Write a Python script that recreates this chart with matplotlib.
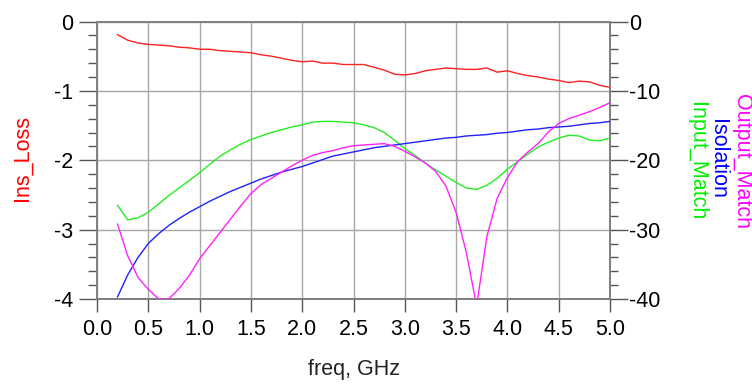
import matplotlib
matplotlib.use("Agg")
import matplotlib.pyplot as plt
from matplotlib.ticker import MultipleLocator, FormatStrFormatter

plt.rcParams['font.family'] = ['Liberation Sans', 'DejaVu Sans']
plt.rcParams['axes.unicode_minus'] = False

freq = [0.2, 0.3, 0.4, 0.5, 0.6, 0.7, 0.8, 0.9, 1.0, 1.1, 1.2, 1.3, 1.4, 1.5, 1.6,
        1.7, 1.8, 1.9, 2.0, 2.1, 2.2, 2.3, 2.4, 2.5, 2.6, 2.7, 2.8, 2.9, 3.0, 3.1,
        3.2, 3.3, 3.4, 3.5, 3.6, 3.7, 3.8, 3.9, 4.0, 4.1, 4.2, 4.3, 4.4, 4.5, 4.6,
        4.7, 4.8, 4.9, 5.0]

ins_loss = [-0.19, -0.27, -0.31, -0.33, -0.34, -0.35, -0.37, -0.38, -0.40, -0.40,
            -0.42, -0.43, -0.44, -0.45, -0.48, -0.50, -0.53, -0.56, -0.58, -0.57,
            -0.60, -0.60, -0.62, -0.62, -0.62, -0.66, -0.70, -0.76, -0.77, -0.75,
            -0.71, -0.69, -0.67, -0.68, -0.69, -0.69, -0.67, -0.73, -0.71, -0.75,
            -0.78, -0.80, -0.83, -0.85, -0.88, -0.86, -0.87, -0.92, -0.95]

input_match = [-26.5, -28.6, -28.3, -27.5, -26.3, -25.1, -24.0, -22.9, -21.8, -20.6,
               -19.4, -18.5, -17.7, -17.0, -16.5, -16.0, -15.6, -15.2, -14.9, -14.5,
               -14.4, -14.4, -14.5, -14.6, -14.9, -15.3, -16.0, -17.1, -18.3, -19.3,
               -20.4, -21.4, -22.3, -23.2, -24.0, -24.2, -23.6, -22.6, -21.3, -20.2,
               -19.1, -18.1, -17.4, -16.8, -16.4, -16.5, -17.1, -17.2, -16.8]

isolation = [-39.7, -36.5, -34.0, -32.0, -30.6, -29.4, -28.4, -27.5, -26.7, -25.9,
             -25.2, -24.5, -23.9, -23.3, -22.7, -22.2, -21.7, -21.3, -20.9, -20.4,
             -19.9, -19.4, -19.1, -18.8, -18.5, -18.2, -18.0, -17.8, -17.6, -17.4,
             -17.2, -17.0, -16.8, -16.7, -16.5, -16.4, -16.3, -16.1, -16.0, -15.8,
             -15.6, -15.5, -15.3, -15.2, -15.1, -14.9, -14.7, -14.6, -14.4]

output_match = [-29.2, -33.8, -36.9, -38.6, -40.0, -40.0, -38.5, -36.6, -34.2, -32.3,
                -30.4, -28.5, -26.6, -24.8, -23.5, -22.6, -21.7, -20.8, -20.0, -19.3,
                -18.9, -18.6, -18.2, -17.9, -17.8, -17.7, -17.6, -18.0, -18.7, -19.5,
                -20.4, -21.6, -23.7, -27.5, -33.3, -41.0, -31.0, -25.5, -22.5, -20.2,
                -18.8, -17.6, -15.9, -14.7, -14.0, -13.5, -13.0, -12.4, -11.7]

x_ticks = [0.0, 0.5, 1.0, 1.5, 2.0, 2.5, 3.0, 3.5, 4.0, 4.5, 5.0]

FS = 15.5
W, H = 752, 385
fig = plt.figure(figsize=(W / 100, H / 100), dpi=100)
ax = fig.add_axes([97 / W, 1 - 299 / H, (610 - 97) / W, (299 - 21.5) / H])
ax2 = ax.twinx()

ax.plot(freq, ins_loss, color='#ff2020', lw=1.0, zorder=3)
ax2.plot(freq, input_match, color='#22ee22', lw=1.0, zorder=3)
ax2.plot(freq, isolation, color='#2020ff', lw=1.0, zorder=3)
ax2.plot(freq, output_match, color='#ff22ff', lw=1.0, zorder=3)

ax.set_xlim(0, 5)
ax.set_ylim(-4, 0)
ax2.set_ylim(-40, 0)

ax.set_xticks(x_ticks)
ax.xaxis.set_major_formatter(FormatStrFormatter('%.1f'))
ax.yaxis.set_major_locator(MultipleLocator(1))
ax.yaxis.set_minor_locator(MultipleLocator(0.2))
ax.yaxis.set_major_formatter(FormatStrFormatter('%d'))
ax2.yaxis.set_major_locator(MultipleLocator(10))
ax2.yaxis.set_minor_locator(MultipleLocator(2))
ax2.yaxis.set_major_formatter(FormatStrFormatter('%d'))

ax.grid(True, which='major', color='#a8a8a8', lw=1.0, zorder=0)
ax.set_axisbelow(True)

tc = '#555555'
ax.tick_params(axis='x', which='major', length=9.4, width=1.0, color=tc, pad=5,
               labelsize=FS, direction='out')
ax.tick_params(axis='y', which='major', length=13, width=1.0, color=tc, pad=4,
               labelsize=FS, direction='out')
ax.tick_params(axis='y', which='minor', length=6.5, width=1.0, color=tc, direction='out')
ax2.tick_params(axis='y', which='major', length=13, width=1.0, color=tc, pad=1,
                labelsize=FS, direction='out')
ax2.tick_params(axis='y', which='minor', length=6, width=1.0, color=tc, direction='out')

for a in (ax, ax2):
    for s in a.spines.values():
        s.set_color('#808080')
        s.set_linewidth(1.3)

fig.text(22 / W, 1 - 158 / H, 'Ins_Loss', color='#ff0000', rotation=90,
         ha='center', va='center', fontsize=FS)
fig.text(353.5 / W, 1 - 369 / H, 'freq, GHz', color='#222222',
         ha='center', va='center', fontsize=FS)
fig.text(741 / W, 1 - 161 / H, 'Output_Match', color='#ff00ff', rotation=270,
         ha='center', va='center', fontsize=FS)
fig.text(718 / W, 1 - 159 / H, 'Isolation', color='#0000ff', rotation=270,
         ha='center', va='center', fontsize=FS)
fig.text(696 / W, 1 - 161 / H, 'Input_Match', color='#00ee00', rotation=270,
         ha='center', va='center', fontsize=FS)

fig.savefig('out.png', dpi=100)
